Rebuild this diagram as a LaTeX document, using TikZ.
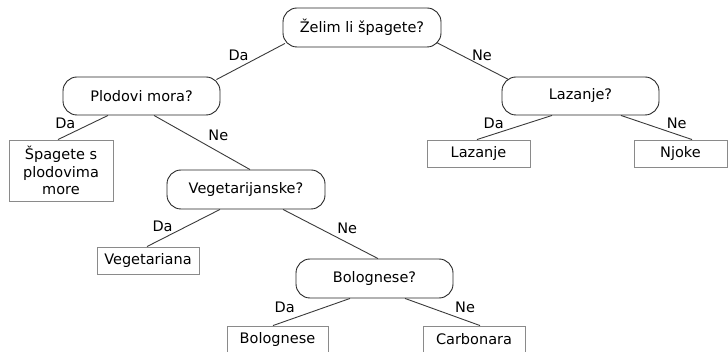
\documentclass[tikz,border=0pt]{standalone}
\usepackage{fontspec}
\setmainfont{DejaVu Sans}
\usepackage{tikz}
\definecolor{edgegray}{HTML}{3A3A3A}
\definecolor{leafgray}{HTML}{8A8A8A}
\tikzset{
	dectree/.style = {align=center, inner sep=1pt, text centered, font=\fontsize{14.5}{17.5}\selectfont},
	dec_q/.style = {dectree, rectangle, draw=black!85, line width=0.9pt, rounded corners=14pt, minimum width=157pt, minimum height=39pt},
	dec_leaf/.style = {dectree, rectangle, draw=leafgray, line width=0.9pt, minimum height=27pt},
	dec_lbl/.style = {dectree, inner sep=1pt},
	dec_edge/.style = {draw=edgegray, line width=0.9pt}
}

\begin{document}
\begin{tikzpicture}[x=1pt, y=-1pt]
\useasboundingbox (0,0) rectangle (728,352);
% questions
\node [dec_q, minimum width=158pt] (root) at (362,27.5) {Želim li špagete?};
\node [dec_q, minimum height=38pt] (plod) at (141.5,96) {Plodovi mora?};
\node [dec_q, minimum height=38pt] (lazq) at (580.5,96) {Lazanje?};
\node [dec_q, minimum width=158pt] (vegq) at (246,189.5) {Vegetarijanske?};
\node [dec_q] (bolq) at (374.5,278.5) {Bolognese?};
% leaves
\node [dec_leaf, minimum width=104pt, minimum height=61pt] (spag) at (61,170.5) {Špagete s\\plodovima\\more};
\node [dec_leaf, minimum width=103pt] (lazl) at (478.5,153.5) {Lazanje};
\node [dec_leaf, minimum width=93pt] (njok) at (680.5,153.5) {Njoke};
\node [dec_leaf, minimum width=102pt] (vegl) at (148,260.5) {Vegetariana};
\node [dec_leaf, minimum width=101pt] (boll) at (277.5,339.5) {Bolognese};
\node [dec_leaf, minimum width=102pt] (carb) at (474,339.5) {Carbonara};
% edges
\draw [dec_edge] ([shift={(-77pt,4pt)}]root.south) -- node [dec_lbl, pos=.51, anchor=south east] (l1) {Da} ([shift={(-4pt,-3pt)}]plod.north east);
\draw [dec_edge] ([shift={(-5pt,5pt)}]root.south east) -- node [dec_lbl, pos=.53, anchor=south west, xshift=-4pt] (l2) {Ne} ([shift={(7pt,-3pt)}]lazq.north west);
\draw [dec_edge] ([xshift=-33.5pt]plod.south) -- node [dec_lbl, pos=.625, anchor=south east] (l3) {Da} ([xshift=-3pt]spag.north);
\draw [dec_edge] ([xshift=12.5pt]plod.south) -- node [dec_lbl, pos=.5, anchor=south west, xshift=5pt] (l4) {Ne} ([xshift=4pt]vegq.north);
\draw [dec_edge] ([xshift=-28.5pt]lazq.south) -- node [dec_lbl, pos=.625, anchor=south east] (l5) {Da} ([xshift=-1.5pt]lazl.north);
\draw [dec_edge] ([xshift=40.5pt]lazq.south) -- node [dec_lbl, pos=.625, anchor=south west] (l6) {Ne} ([xshift=11.5pt]njok.north);
\draw [dec_edge] ([xshift=-26pt]vegq.south) -- node [dec_lbl, pos=.63, anchor=south east] (l7) {Da} ([xshift=-1pt]vegl.north);
\draw [dec_edge] ([xshift=37pt]vegq.south) -- node [dec_lbl, pos=.52, anchor=south west, xshift=3.5pt] (l8) {Ne} ([xshift=3.5pt]bolq.north);
\draw [dec_edge] ([xshift=-24.5pt]bolq.south) -- node [dec_lbl, pos=.57, anchor=south east, xshift=-10pt] (l9) {Da} ([xshift=-4.5pt]boll.north);
\draw [dec_edge] ([xshift=30.5pt]bolq.south) -- node [dec_lbl, pos=.57, anchor=south west, xshift=6pt] (l10) {Ne} ([xshift=6pt]carb.north);
\end{tikzpicture}
\end{document}
